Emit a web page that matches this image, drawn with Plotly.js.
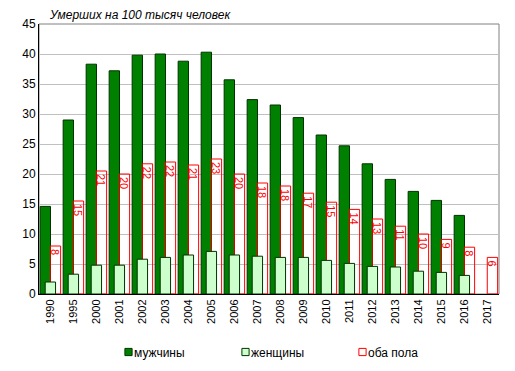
<!DOCTYPE html>
<html>
<head>
<meta charset="utf-8">
<script src="https://cdn.plot.ly/plotly-3.0.1.min.js"></script>
<style>html,body{margin:0;padding:0;background:#fff;}#chart{width:515px;height:371px;}</style>
</head>
<body>
<div id="chart"></div>
<script>
const years = ['1990','1995','2000','2001','2002','2003','2004','2005','2006','2007','2008','2009','2010','2011','2012','2013','2014','2015','2016','2017'];
const men   = [14.6, 29.0, 38.3, 37.2, 39.8, 40.0, 38.8, 40.3, 35.7, 32.4, 31.5, 29.4, 26.5, 24.7, 21.7, 19.1, 17.1, 15.6, 13.1, null];
const women = [2.0, 3.3, 4.8, 4.8, 5.8, 6.1, 6.5, 7.1, 6.5, 6.3, 6.1, 6.1, 5.6, 5.1, 4.6, 4.5, 3.8, 3.6, 3.1, null];
const both  = [8.0, 15.5, 20.5, 20.0, 21.7, 22.0, 21.5, 22.5, 20.0, 18.5, 18.0, 16.8, 15.3, 14.1, 12.5, 11.3, 10.0, 9.1, 7.8, 6.1];
const bothLabels = ['8','15','21','20','22','22','21','23','20','18','18','17','15','14','13','11','10','9','8','6'];
const seriesNames = ['мужчины','женщины','оба пола'];
const titleText = 'Умерших на 100 тысяч человек';

const FONT = 'Arial, "Liberation Sans", sans-serif';

const traces = [
  {type:'bar', name: seriesNames[0], x: years, y: men, width: 0.45, offset: -0.45,
   marker:{color:'#008000', line:{color:'#003300', width:1}}, legendrank: 1, hoverinfo:'none'},
  {type:'bar', name: seriesNames[2], x: years, y: both, width: 0.45, offset: -0.01,
   marker:{color:'rgba(255,255,255,0)', line:{color:'#ff0000', width:1}}, legendrank: 3,
   text: bothLabels, textposition:'inside', insidetextanchor:'end', textangle: 90,
   constraintext:'none', textfont:{color:'#ff0000', size:11, family: FONT}, hoverinfo:'none'},
  {type:'bar', name: seriesNames[1], x: years, y: women, width: 0.45, offset: -0.23,
   marker:{color:'#ccffcc', line:{color:'#003300', width:1}}, legendrank: 2, hoverinfo:'none'}
];

const layout = {
  width: 515, height: 371,
  margin: {l: 39, r: 16, t: 24, b: 77, pad: 0, autoexpand: false},
  paper_bgcolor: '#ffffff', plot_bgcolor: '#ffffff',
  font: {family: FONT, color: '#000000', size: 12},
  barmode: 'overlay',
  showlegend: true,
  title: {text: titleText, font: {family: FONT, size: 12, style: 'italic', color: '#000000'},
          x: 50/515, xanchor: 'left', xref: 'container', y: 1 - 15/371, yanchor: 'middle', yref: 'container'},
  xaxis: {type: 'category', tickangle: -90, tickfont: {size: 11}, showline: true, linecolor: '#000000', linewidth: 1,
          ticks: '', showgrid: false, zeroline: false, fixedrange: true, automargin: false},
  yaxis: {range: [0, 45], dtick: 5, tick0: 0, tickfont: {size: 12}, showline: true, linecolor: '#000000', linewidth: 1,
          showgrid: true, gridcolor: '#c0c0c0', gridwidth: 1, zeroline: false, ticks: '', fixedrange: true, automargin: false},
  legend: {orientation: 'h', xref: 'container', yref: 'container', x: 94 / 515, xanchor: 'left', y: 1 - 352 / 371, yanchor: 'middle',
           entrywidth: 72, entrywidthmode: 'pixels', font: {size: 12}, traceorder: 'normal', bgcolor: 'rgba(0,0,0,0)'},
  shapes: [{type: 'rect', xref: 'paper', yref: 'paper', x0: 0, x1: 1, y0: 0, y1: 1,
            line: {color: '#808080', width: 1}, fillcolor: 'rgba(0,0,0,0)', layer: 'below'}]
};

Plotly.newPlot('chart', traces, layout, {displayModeBar: false, staticPlot: true}).then(function(gd){
  // shrink legend swatches to small squares next to text, as in the reference
  document.querySelectorAll('.legend .legendpoints path').forEach(function(p){
    p.setAttribute('transform', 'translate(34.5,0) scale(0.6)');
    p.setAttribute('vector-effect', 'non-scaling-stroke');
  });
});
</script>
</body>
</html>
